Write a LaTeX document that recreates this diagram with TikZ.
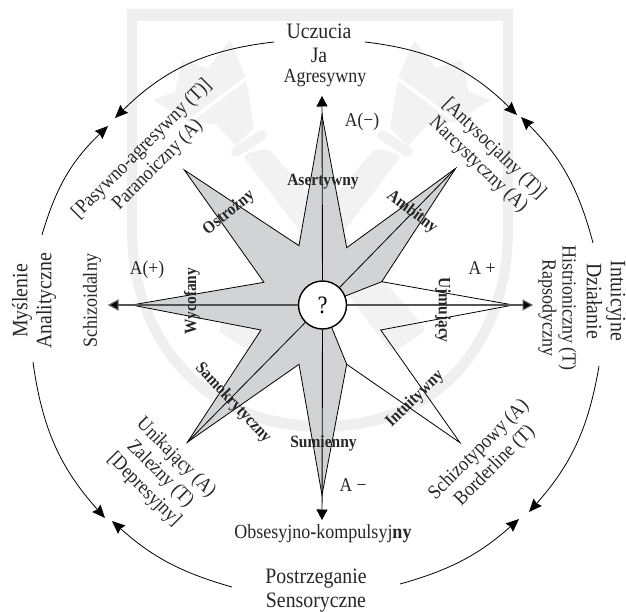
\documentclass[tikz,border=0pt]{standalone}
\usepackage{fontspec}
\setmainfont[FakeStretch=0.9]{Liberation Serif}
\usetikzlibrary{arrows.meta}
\definecolor{wm}{HTML}{EFEFEF}
\definecolor{wmt}{HTML}{F2F2F2}
\definecolor{stargray}{HTML}{D1D3D4}
\definecolor{axisgray}{HTML}{555555}
\tikzset{
  big/.style={font=\fontsize{22}{24}\selectfont,align=center,inner sep=0pt,text=black!85},
  mid/.style={font=\fontsize{20}{22.5}\selectfont,align=center,inner sep=0pt,text=black!85},
  small/.style={font=\fontsize{19.5}{21}\selectfont,inner sep=0pt,text=black!85},
  trait/.style={font=\fontsize{17.2}{18}\selectfont\bfseries,inner sep=0pt,text=black!85},
  starline/.style={draw=black,line width=0.8pt,line join=miter},
  axis/.style={line width=0.9pt,-{Triangle[length=10.5pt,width=11pt]}},
  cycle arrow/.style={line width=0.8pt,-{Stealth[length=13pt,width=11pt,inset=1.5pt]}},
}
\newcommand{\torchshape}{%
  \fill[wmt,rounded corners=6pt] (242,155) -- (392,353) -- (427,330) -- (268,148) -- cycle;
  \draw[wmt,line width=10pt,line cap=round] (236,152) -- (262,135);
  \fill[wmt] (153,100) -- (175,92) -- (182,60) -- (208,68) -- (230,40) -- (245,75) -- (250,102) -- (254,128) -- (236,146) -- (216,124) -- (190,122) -- cycle;
  \draw[white,line width=3.5pt] (247,78) -- (192,119);
}
\begin{document}
\begin{tikzpicture}[x=1pt,y=-1pt]
\useasboundingbox (0,0) rectangle (626,612);
% background emblem
\fill[wm,even odd rule]
  (127,9) -- (513,9) -- (513,230) .. controls (513,340) and (445,432) .. (322,432)
  .. controls (199,432) and (127,340) .. (127,230) -- cycle
  (137,21) -- (503,21) -- (503,230) .. controls (503,335) and (438,421) .. (322,421)
  .. controls (206,421) and (137,335) .. (137,230) -- cycle;
\begin{scope}\torchshape\end{scope}
\begin{scope}[shift={(644,0)},xscale=-1]\torchshape\end{scope}
% star points
\coordinate (c) at (322.5,305);
\coordinate (pN) at (322,115);
\coordinate (iNE) at (346.7,247.7);
\coordinate (pNE) at (455.7,168.3);
\coordinate (iEN) at (381.7,281.7);
\coordinate (pE) at (513.3,305);
\coordinate (iES) at (380.7,330);
\coordinate (pSE) at (460,442.7);
\coordinate (iSE) at (346.7,364.3);
\coordinate (pS) at (322,495);
\coordinate (iSW) at (299,364.3);
\coordinate (pSW) at (187.3,442.3);
\coordinate (iWS) at (261,330);
\coordinate (pW) at (131.7,305);
\coordinate (iWN) at (264,282.3);
\coordinate (pNW) at (184.3,170);
\coordinate (iNW) at (299,245.7);
\fill[stargray] (pN) -- (iNE) -- (pNE) -- (iEN) -- (c) -- (iSE) -- (pS) -- (iSW) -- (pSW) -- (iWS) -- (pW) -- (iWN) -- (pNW) -- (iNW) -- cycle;
\draw[starline] (pN) -- (iNE) -- (pNE) -- (iEN) -- (pE) -- (iES) -- (pSE) -- (iSE) -- (pS) -- (iSW) -- (pSW) -- (iWS) -- (pW) -- (iWN) -- (pNW) -- (iNW) -- cycle;
\draw[starline] (iEN) -- (c) (iSE) -- (c);
\node[circle,draw=black,fill=white,line width=1.4pt,minimum size=48pt,inner sep=0pt,font=\fontsize{25}{26}\selectfont] (hub) at (c) {?};
\draw[starline] (hub) -- (pNE);
\draw[starline] (hub) -- (pSW);
% axes
\coordinate (aN) at (322,96);
\coordinate (aS) at (322,520);
\coordinate (aE) at (533,305);
\coordinate (aW) at (108,305);
\draw[axis,black] (hub.north) -- (aN);
\draw[axis,black] (hub.south) -- (aS);
\draw[axis,draw=axisgray,line width=1.2pt,{-{Triangle[length=10.5pt,width=11pt,fill=black]}}] (hub.east) -- (aE);
\draw[axis,draw=axisgray,line width=1.2pt,{-{Triangle[length=10.5pt,width=11pt,fill=black]}}] (hub.west) -- (aW);
% outer labels
\node[big] (top) at (319,43) {Uczucia\\Ja};
\node[mid] (agr) at (325,78) {Agresywny};
\node[big,rotate=90] (left) at (34,301) {Myślenie\\Analityczne};
\node[big,rotate=-90] (right) at (606,301) {Intuicyjne\\Działanie};
\node[mid,rotate=-90] (his) at (557.5,308) {Histrioniczny (T)\\[-2.5pt]Rapsodyczny};
\node[mid,rotate=90] (sch) at (92,301) {Schizoidalny};
\node[big] (bot) at (316,591) {Postrzeganie\\Sensoryczne};
\node[mid] (obs) at (323,534) {Obsesyjno\textbf{-}kompulsyj\textbf{ny}};
\node[mid,rotate=45] (pas) at (150,157) {[Pasywno-agresywny (T)]\\Paranoiczny (A)};
\node[mid,rotate=-44] (ant) at (486,157) {[Antysocjalny (T)]\\Narcystyczny (A)};
\node[mid,rotate=-45] (uni) at (160,474) {Unikający (A)\\Zależny (T)\\{[Depresyjny]}};
\node[mid,rotate=45] (szt) at (487,458) {Schizotypowy (A)\\Borderline (T)};
% quadrant marks
\node[small] (am) at (362,122) {A(−)};
\node[small] (ap) at (147,270) {A(+)};
\node[small] (ape) at (482,268) {A +};
\node[small] (ame) at (353,485) {A −};
% traits
\node[trait] (t1) at (323,182) {Asertywny};
\node[trait,rotate=39] (t2) at (229,213) {Ostrożny};
\node[trait,rotate=-37] (t3) at (412,212) {Ambitny};
\node[trait,rotate=90] (t4) at (192,301) {Wycofany};
\node[trait,rotate=-90] (t5) at (443,310) {Ujmujący};
\node[trait,rotate=-47] (t6) at (233,403) {Samokrytyczny};
\node[trait,rotate=44] (t7) at (415,399) {Intuitywny};
\node[trait] (t8) at (323.5,443) {Sumienny};
% cycle arcs
\coordinate (a1s) at (274,42);  \coordinate (a1e) at (115,118);
\coordinate (a2s) at (365,42);  \coordinate (a2e) at (517,115);
\coordinate (a3s) at (593,243); \coordinate (a3e) at (521,117);
\coordinate (a4s) at (42,235);  \coordinate (a4e) at (108,126);
\coordinate (a5s) at (33,362);  \coordinate (a5e) at (105,518);
\coordinate (a6s) at (232,587); \coordinate (a6e) at (112,521);
\coordinate (a7s) at (400,584); \coordinate (a7e) at (519,519);
\coordinate (a8s) at (599,366); \coordinate (a8e) at (529,512);
\draw[cycle arrow] (a1s) to[bend left=-19] (a1e);
\draw[cycle arrow] (a2s) to[bend left=19] (a2e);
\draw[cycle arrow] (a3s) to[bend left=-15] (a3e);
\draw[cycle arrow] (a4s) to[bend left=15] (a4e);
\draw[cycle arrow] (a5s) to[bend left=-17] (a5e);
\draw[cycle arrow] (a6s) to[bend left=13] (a6e);
\draw[cycle arrow] (a7s) to[bend left=-13] (a7e);
\draw[cycle arrow] (a8s) to[bend left=16] (a8e);
\end{tikzpicture}
\end{document}
